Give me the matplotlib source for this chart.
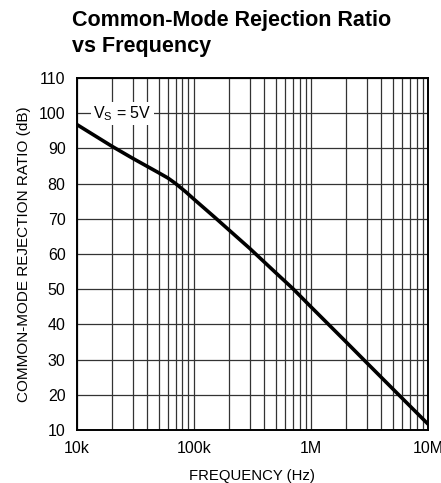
import matplotlib
matplotlib.use('Agg')
import matplotlib.pyplot as plt
import numpy as np

# values
freq = [10e3, 20e3, 30e3, 50e3, 60e3, 70e3, 85e3, 100e3, 150e3, 200e3, 300e3, 500e3, 700e3,
        1e6, 2e6, 3e6, 5e6, 10e6]
cmrr = [96.8, 90.6, 87.2, 83.1, 81.6, 80.0, 77.7, 75.6, 70.5, 66.8, 61.6, 54.7, 50.2,
        45.0, 35.0, 29.1, 21.7, 11.7]

xticks = [1e4, 1e5, 1e6, 1e7]
xlabels = ['10k', '100k', '1M', '10M']
yticks = [10, 20, 30, 40, 50, 60, 70, 80, 90, 100, 110]

plt.rcParams['font.family'] = ['Liberation Sans Narrow', 'Liberation Sans', 'DejaVu Sans']

fig = plt.figure(figsize=(4.41, 4.83), dpi=100)
ax = fig.add_axes([0.174, 0.1097, 0.7965, 0.7288])

ax.semilogx(freq, cmrr, color='black', linewidth=2.6, zorder=3)

ax.set_xlim(1e4, 1e7)
ax.set_ylim(10, 110)
ax.set_xticks(xticks)
ax.set_xticklabels(xlabels)
ax.set_yticks(yticks)
ax.tick_params(axis='both', which='both', length=0, labelsize=11.5, pad=8)
ax.grid(True, which='major', color='#333333', linewidth=0.9)
ax.grid(True, which='minor', axis='x', color='#333333', linewidth=0.9)
for s in ax.spines.values():
    s.set_linewidth(1.4)

ax.text(24.5e3, 100, 'V$_\\mathregular{S}$ = 5V', fontsize=11.5, ha='center', va='center',
        bbox=dict(facecolor='white', edgecolor='none', pad=1.5), zorder=4)

ax.set_xlabel('FREQUENCY (Hz)', fontsize=10.7, labelpad=9)
ax.set_ylabel('COMMON-MODE REJECTION RATIO (dB)', fontsize=11, labelpad=6)

fig.text(0.163, 0.979, 'Common-Mode Rejection Ratio\nvs Frequency', fontsize=15.5,
         fontweight='bold', ha='left', va='top', linespacing=1.3)

fig.savefig('out.png', dpi=100)
